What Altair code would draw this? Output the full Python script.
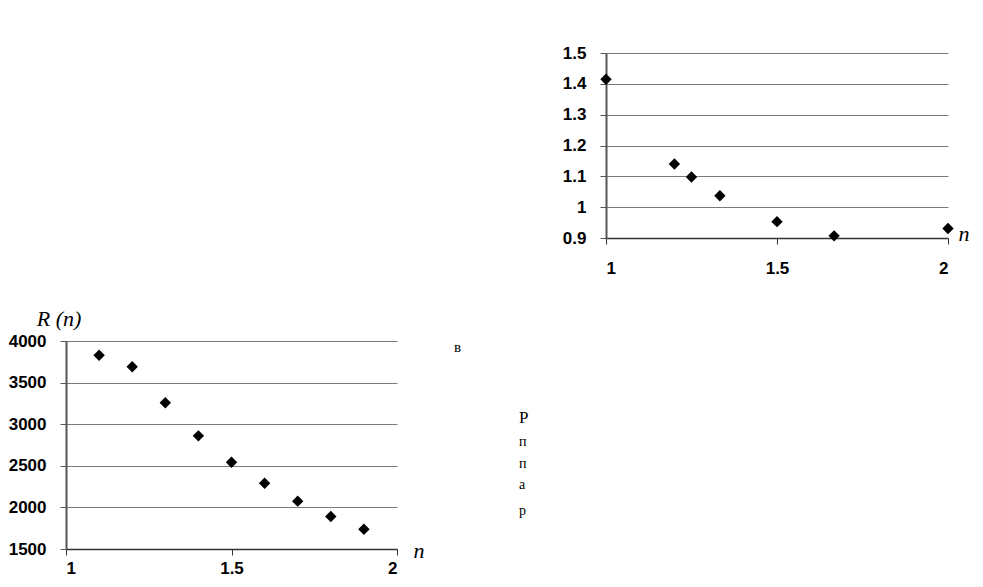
import altair as alt
import pandas as pd

# Top chart (upper right)
top_n = [1.0, 1.2, 1.25, 1.333, 1.5, 1.667, 2.0]
top_v = [1.415, 1.14, 1.098, 1.037, 0.953, 0.907, 0.931]
top_yticks = [0.9, 1.0, 1.1, 1.2, 1.3, 1.4, 1.5]

# Bottom chart (lower left)
bot_n = [1.1, 1.2, 1.3, 1.4, 1.5, 1.6, 1.7, 1.8, 1.9]
bot_v = [3828, 3690, 3258, 2860, 2543, 2290, 2075, 1890, 1738]
bot_yticks = [1500, 2000, 2500, 3000, 3500, 4000]

x_ticks = [1, 1.5, 2]

# Caption fragments of the scanned page
cap_text = ["в", "Р", "п", "п", "а", "р"]
cap_x = [29, 94, 94, 94, 94, 94]
cap_y = [6, 77, 101, 123, 144, 170]
cap_size = [15, 17, 14, 14, 14, 14]

LBL = dict(labelFont="Liberation Sans", labelFontWeight="bold", labelFontSize=17,
           labelColor="black", labelOverlap=False)

def xaxis(pad):
    return alt.Axis(values=x_ticks, tickCount=20, grid=False, domain=True,
                    domainColor="#333", domainWidth=1.5, ticks=True, tickSize=6,
                    tickColor="#333", labelPadding=pad, title=None, format="~g", **LBL)

def yaxis(vals, fmt):
    return alt.Axis(values=vals, tickCount=20, grid=True, gridColor="#7a7a7a",
                    gridWidth=1.2, domain=True, domainColor="#555", domainWidth=2,
                    ticks=True, tickSize=6, tickColor="#555", labelPadding=14,
                    title=None, format=fmt, **LBL)

top_df = pd.DataFrame({"n": top_n, "v": top_v})
top_pts = alt.Chart(top_df).mark_point(shape="diamond", filled=True, color="black",
                                       size=130, opacity=1).encode(
    x=alt.X("n:Q", scale=alt.Scale(domain=[1, 2], nice=False), axis=xaxis(16)),
    y=alt.Y("v:Q", scale=alt.Scale(domain=[0.9, 1.5], nice=False, zero=False),
            axis=yaxis(top_yticks, "~g")),
)
top_lbl = alt.Chart(pd.DataFrame({"n": [2.0], "v": [0.9], "t": ["n"]})).mark_text(
    font="Liberation Serif", fontStyle="italic", fontSize=22, dx=16, dy=-4,
    color="black").encode(x="n:Q", y="v:Q", text="t:N")
top = alt.layer(top_pts, top_lbl).properties(width=342, height=185)

bot_df = pd.DataFrame({"n": bot_n, "v": bot_v})
bot_pts = alt.Chart(bot_df).mark_point(shape="diamond", filled=True, color="black",
                                       size=130, opacity=1).encode(
    x=alt.X("n:Q", scale=alt.Scale(domain=[1, 2], nice=False), axis=xaxis(5)),
    y=alt.Y("v:Q", scale=alt.Scale(domain=[1500, 4000], nice=False, zero=False),
            axis=yaxis(bot_yticks, "d")),
)
bot_n_lbl = alt.Chart(pd.DataFrame({"n": [2.0], "v": [1500], "t": ["n"]})).mark_text(
    font="Liberation Serif", fontStyle="italic", fontSize=22, dx=22, dy=2,
    color="black").encode(x="n:Q", y="v:Q", text="t:N")
bot_r_lbl = alt.Chart(pd.DataFrame({"n": [1.0], "v": [4000], "t": ["R (n)"]})).mark_text(
    font="Liberation Serif", fontStyle="italic", fontSize=22, dx=-7, dy=-22,
    color="black").encode(x="n:Q", y="v:Q", text="t:N")
bottom = alt.layer(bot_pts, bot_n_lbl, bot_r_lbl).properties(width=331, height=208)

spacer = alt.Chart(pd.DataFrame({"a": [0]})).mark_point(opacity=0).encode(
    x=alt.X("a:Q", axis=None), y=alt.Y("a:Q", axis=None)
).properties(width=496, height=10)

cap_df = pd.DataFrame({"x": cap_x, "y": cap_y, "t": cap_text, "s": cap_size})
caption = alt.Chart(cap_df).mark_text(font="Liberation Serif", color="black",
                                      align="left", baseline="middle").encode(
    x=alt.X("x:Q", scale=alt.Scale(domain=[0, 450], nice=False), axis=None),
    y=alt.Y("y:Q", scale=alt.Scale(domain=[0, 200], range=[0, 200], nice=False), axis=None),
    text="t:N",
    size=alt.Size("s:Q", scale=None, legend=None),
).properties(width=450, height=200)

row1 = alt.hconcat(spacer, top, spacing=0)
row2 = alt.hconcat(bottom, caption, spacing=0)

chart = alt.vconcat(row1, row2, spacing=32).properties(
    padding={"left": 0, "top": 36, "right": 0, "bottom": 0},
    background="white",
).configure_view(stroke=None)

chart.save("out.html", embed_options={"renderer": "svg", "actions": False})
